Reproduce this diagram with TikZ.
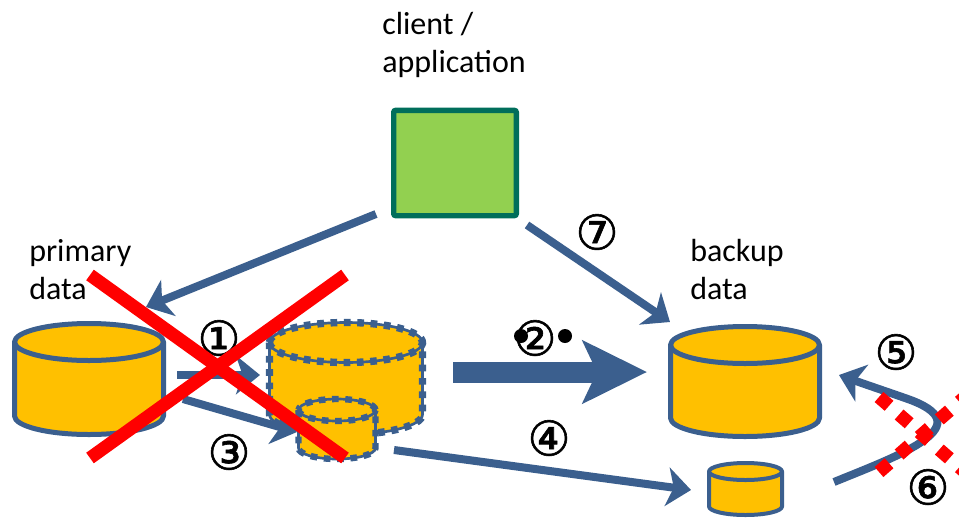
\documentclass[tikz,border=0pt]{standalone}
\usepackage{fontspec}
\setmainfont{Carlito}
\newfontfamily\circfont[RawFeature={embolden=1.2}]{DejaVu Sans}
\usetikzlibrary{arrows.meta}
\definecolor{flowblue}{HTML}{3B5F8E}
\definecolor{dbfill}{HTML}{FFC000}
\definecolor{boxfill}{HTML}{92D050}
\definecolor{boxline}{HTML}{006E5B}
\tikzset{
  dbcyl/.style={draw=flowblue,fill=dbfill,line width=3.75pt,line join=round},
  lostcyl/.style={dbcyl,line width=5.5pt,dash pattern=on 5pt off 5pt,postaction={draw=flowblue,fill=none,line width=2pt,solid}},
  flow/.style={draw=flowblue,line width=6pt,-{Stealth[length=18pt,width=29pt,inset=5pt]}},
  lbl/.style={align=left,inner sep=0pt,anchor=north west,font=\fontsize{24}{28.5}\selectfont},
  numlbl/.style={inner sep=0pt,font=\circfont\fontsize{36}{36}\selectfont},
  crossline/.style={draw=red,line width=9.75pt},
  lostline/.style={draw=red,line width=10pt,dash pattern=on 10pt off 10pt},
  blackdot/.style={circle,fill=black,inner sep=0pt,minimum size=10.5pt}
}
% style, name, x, y of the top ellipse, x radius, y radius, body height
\newcommand{\dbstore}[7]{%
\path[#1] (#3-#5,#4) -- ++(0,#7) arc[start angle=180,end angle=360,x radius=#5*.75pt,y radius=#6*.75pt]
  -- ++(0,-#7) arc[start angle=0,end angle=180,x radius=#5*.75pt,y radius=#6*.75pt] -- cycle;
\draw[#1,fill=none] (#3-#5,#4) arc[start angle=180,end angle=360,x radius=#5*.75pt,y radius=#6*.75pt];
\coordinate (#2) at (#3,#4+#7/2);}
\begin{document}
\begin{tikzpicture}[x=.75pt,y=-.75pt]
\useasboundingbox (0,0) rectangle (959,518);
% labels
\node[lbl] (clientlbl) at (382,12) {client /\\application};
\node[lbl] (primarylbl) at (29,239) {primary\\data};
\node[lbl] (backuplbl) at (690,239) {backup\\data};
% client box
\node[draw=boxline,fill=boxfill,line width=4pt,rounded corners=1.5pt,minimum width=92pt,minimum height=79pt,inner sep=0pt] (client) at (455,163) {};
% stores
\dbstore{dbcyl}{primary}{89}{342}{74.5}{18.5}{74}
\dbstore{lostcyl}{snap}{346}{342.5}{76.5}{20}{72}
\dbstore{dbcyl}{backup}{745}{345}{74.5}{18.5}{73}
\dbstore{dbcyl,line width=3pt}{smallbackup}{745.5}{471.5}{36.5}{8.5}{35}
% free ends of the arrows
\coordinate (clientL) at (376,214);
\coordinate (primaryin) at (146,307);
\coordinate (clientR) at (527,225);
\coordinate (backupin) at (670,322);
\coordinate (snapout) at (177,375);
\coordinate (snapin) at (260,375);
\coordinate (diffout) at (183,399);
\coordinate (diffin) at (297,432);
\coordinate (sendout) at (394,450);
\coordinate (sendin) at (691,490);
\coordinate (copyout) at (453,372);
\coordinate (copyin) at (647,372);
\coordinate (restoreout) at (834,482);
\coordinate (restorein) at (839,375);
% arrows
\draw[flow] (clientL) -- (primaryin);
\draw[flow] (clientR) -- (backupin);
\draw[flow] (snapout) -- (snapin);
\draw[flow] (diffout) -- (diffin);
\draw[flow] (sendout) -- (sendin);
\draw[draw=flowblue,line width=15.75pt,-{Stealth[length=48pt,width=46.5pt,inset=10.5pt]}] (copyout) -- (copyin);
\draw[flow] (restoreout) .. controls (900,455) and (985,425) .. (905,398) .. controls (885,391) and (870,386) .. (restorein);
\dbstore{lostcyl,line width=4.8pt}{delta}{337}{410}{38.5}{11}{38}
% numbers
\foreach \name/\txt/\xx/\yy in {one/①/219/338,two/②/535/338,three/③/229/452,four/④/549/438,five/⑤/896/352,six/⑥/928/487,seven/⑦/597/232}
\node[numlbl] (num\name) at (\xx,\yy) {\txt};
\node[blackdot] (dotL) at (521,336) {};
\node[blackdot] (dotR) at (565,336) {};
% failed
\coordinate (xTL) at (90,275);
\coordinate (xBR) at (345,458);
\coordinate (xTR) at (345,275);
\coordinate (xBL) at (90,458);
\draw[crossline] (xTL) -- (xBR);
\draw[crossline] (xTR) -- (xBL);
\coordinate (lostTL) at (879,397);
\coordinate (lostBR) at (965,472);
\coordinate (lostBL) at (879,472);
\coordinate (lostTR) at (965,397);
\draw[lostline] (lostTL) -- (lostBR);
\draw[lostline] (lostBL) -- (lostTR);
\end{tikzpicture}
\end{document}
